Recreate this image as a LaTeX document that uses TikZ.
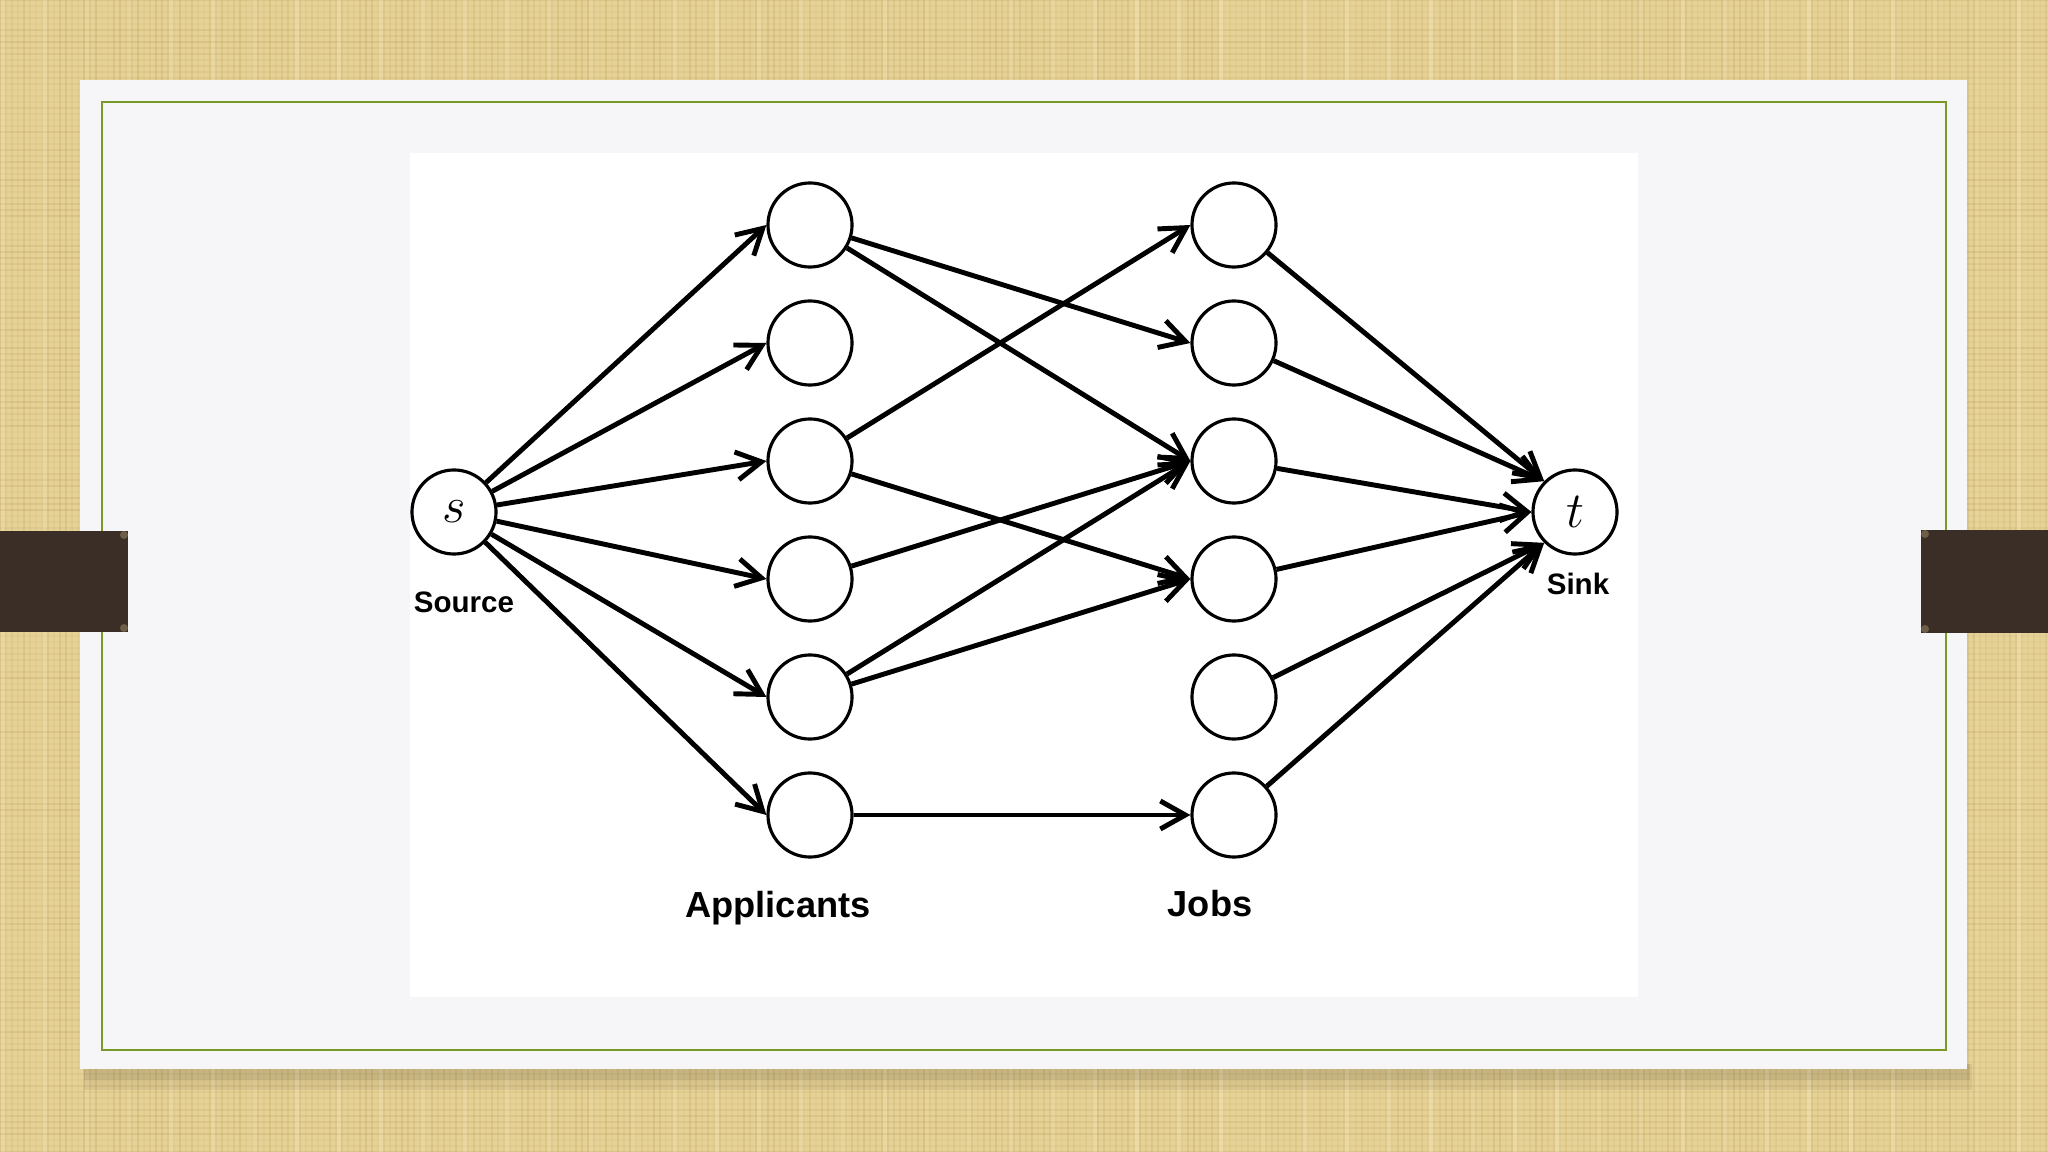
\documentclass[tikz,border=0pt]{standalone}
\usepackage{fontspec}
\setsansfont{Liberation Sans}
\usetikzlibrary{arrows.meta}

\definecolor{linen}{HTML}{E6D296}
\definecolor{linendark}{HTML}{B0904A}
\definecolor{linenlight}{HTML}{F6EAC4}
\definecolor{cardgray}{HTML}{F6F6F8}
\definecolor{olive}{HTML}{7A9A28}
\definecolor{strap}{HTML}{3A2E26}
\definecolor{knob}{HTML}{6E5E48}

\begin{document}
\begin{tikzpicture}[x=0.01cm,y=-0.01cm,
    vtx/.style={circle,draw,line width=0.9pt,minimum size=0.84cm,inner sep=0pt,fill=white},
    link/.style={line width=1.4pt,-{Straight Barb[length=2.5mm,width=2.8mm]}},
    lbl/.style={font=\sffamily\bfseries\fontsize{8.4}{10}\selectfont},
    biglbl/.style={font=\sffamily\bfseries\fontsize{10.3}{12}\selectfont}]
        \useasboundingbox (0,0) rectangle (2048,1152);
        % Linen background
        \pgfmathsetseed{7}
        \fill[linen] (0,0) rectangle (2048,1152);
        \foreach \y in {0,6,...,1152} {
            \pgfmathsetmacro{\op}{0.04+0.18*rnd}
            \draw[linendark,opacity=\op,line width=0.5pt] (0,\y) -- (2048,\y);
        }
        \foreach \x in {0,6,...,2048} {
            \pgfmathsetmacro{\op}{0.04+0.18*rnd}
            \draw[linendark,opacity=\op,line width=0.5pt] (\x,0) -- (\x,1152);
        }
        \foreach \x in {3,45,...,2048} {
            \pgfmathsetmacro{\op}{0.1+0.3*rnd}
            \draw[linenlight,opacity=\op,line width=1pt] (\x,0) -- (\x,1152);
        }

        % Card + shadow
        \fill[black,opacity=0.06] (84,1064) rectangle (1972,1090);
        \fill[black,opacity=0.08] (84,1064) rectangle (1970,1080);
        \fill[cardgray] (80,80) rectangle (1967,1069);
        \fill[white] (410,153) rectangle (1638,997);
        \draw[olive,line width=0.8pt] (102,102) rectangle (1946,1050);

        % Straps
        \fill[strap] (0,531) rectangle (128,632);
        \fill[knob] (124,535) circle (4);
        \fill[knob] (124,628) circle (4);
        \fill[strap] (1921,530) rectangle (2048,633);
        \fill[knob] (1925,534) circle (4);
        \fill[knob] (1925,629) circle (4);

        % Source and sink
        \node[vtx] (s) at (454,512) {\fontsize{14}{14}\selectfont$s$};
        \node[vtx] (t) at (1575,512) {\fontsize{14}{14}\selectfont$t$};
        \node[lbl] (src) at (464,602) {Source};
        \node[lbl] (snk) at (1578,584) {Sink};

        % Applicants and jobs
        \foreach \i in {1,...,6} {
            \node[vtx] (a\i) at (810,{225+118*(\i-1)}) {};
            \node[vtx] (j\i) at (1234,{225+118*(\i-1)}) {};
        }
        \node[biglbl] (app) at (778,908) {Applicants};
        \node[biglbl] (job) at (1210,904) {Jobs};

        % Arcs
        \foreach \i in {1,...,6}
            \draw[link] (s) -- (a\i.west);
        \foreach \p/\q in {1/2,1/3,3/1,3/4,4/3,5/3,5/4,6/6}
            \draw[link] (a\p) -- (j\q.west);
        \foreach \i/\side in {1/north west,2/north west,3/west,4/west,5/south west,6/south west}
            \draw[link] (j\i) -- (t.\side);
\end{tikzpicture}
\end{document}
